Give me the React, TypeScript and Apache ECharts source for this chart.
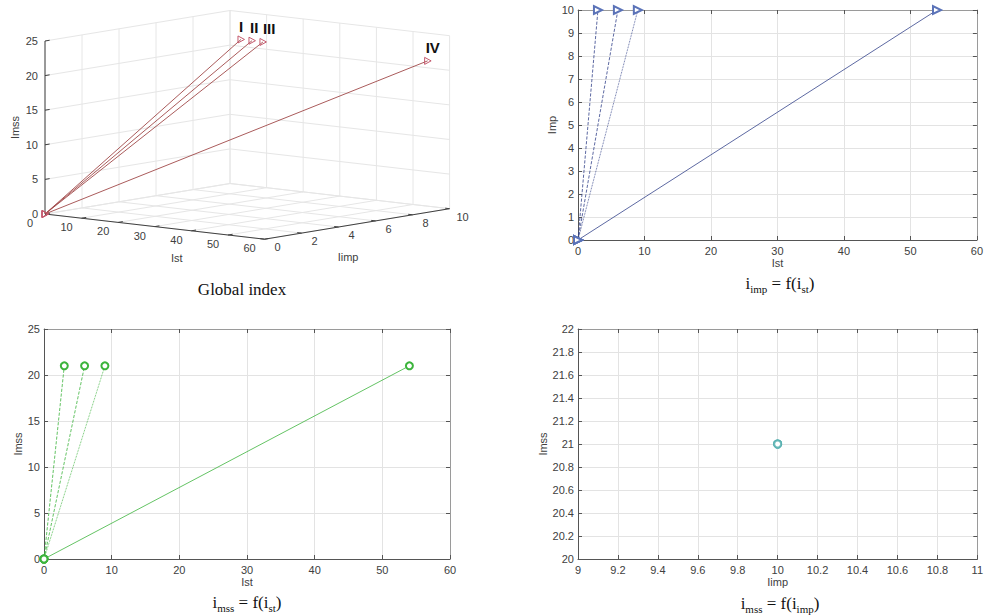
import React, { useEffect, useRef } from 'react';
import * as echarts from 'echarts';

// ---------- data ----------
const pointNames = ['I', 'II', 'III', 'IV'];
const istValues = [3, 6, 9, 54];
const impValues = [10, 10, 10, 10];
const imssValues = [21, 21, 21, 21];
const startPoint = [0, 0, 0];
const lineTypes = ['dashed', 'dashed', 'dotted', 'solid'];

const istTicks = [0, 10, 20, 30, 40, 50, 60];
const impTicks = [0, 2, 4, 6, 8, 10];
const imssTicks = [0, 5, 10, 15, 20, 25];

// ---------- 3D projection (orthographic) ----------
const O3 = [45, 214];
const AX = [3.66, 0.42];
const BX = [18.5, -3.05];
const CZ = [0, -6.92];
function proj(i: number, m: number, s: number) {
  return [
    O3[0] + i * AX[0] + m * BX[0] + s * CZ[0],
    O3[1] + i * AX[1] + m * BX[1] + s * CZ[1],
  ];
}

const FONT = 'Liberation Sans, Arial, sans-serif';
const SERIF = 'Liberation Serif, Times New Roman, serif';
const LABEL_COLOR = '#404040';
const GRID_COLOR = '#e3e3e3';

const istMax = istTicks[istTicks.length - 1];
const impMax = impTicks[impTicks.length - 1];
const imssMax = imssTicks[imssTicks.length - 1];

// segments: [i1,m1,s1,i2,m2,s2,kind]  kind 0 = grid, 1 = axis/tick
const segs3d: number[][] = [];
istTicks.forEach((t) => {
  segs3d.push([t, 0, 0, t, impMax, 0, 0]);
  segs3d.push([t, impMax, 0, t, impMax, imssMax, 0]);
});
impTicks.forEach((m) => {
  segs3d.push([0, m, 0, istMax, m, 0, 0]);
  segs3d.push([0, m, 0, 0, m, imssMax, 0]);
});
imssTicks.forEach((s) => {
  segs3d.push([0, 0, s, 0, impMax, s, 0]);
  segs3d.push([0, impMax, s, istMax, impMax, s, 0]);
});
segs3d.push([0, 0, 0, istMax, 0, 0, 1]);
segs3d.push([istMax, 0, 0, istMax, impMax, 0, 1]);
segs3d.push([0, 0, 0, 0, 0, imssMax, 1]);
istTicks.forEach((t) => segs3d.push([t, 0, 0, t, 0.25, 0, 1]));
impTicks.forEach((m) => segs3d.push([istMax, m, 0, istMax - 1.2, m, 0, 1]));
imssTicks.forEach((s) => segs3d.push([0, 0, s, 0, 0.25, s, 1]));

// tick labels: [axis, value]  axis 0 = ist, 1 = imp, 2 = imss
const labels3d: number[][] = [
  ...istTicks.map((t) => [0, t]),
  ...impTicks.map((t) => [1, t]),
  ...imssTicks.map((t) => [2, t]),
];

const points3d = istValues.map((v, k) => [v, impValues[k], imssValues[k], k]);

function axesFor(g: number, xr: number[], yr: number[], xName: string, yName: string, yGap: number, dec: boolean) {
  const fmt = (v: number) => (dec ? String(+v.toFixed(1)) : String(v));
  const common = {
    gridIndex: g,
    type: 'value' as const,
    axisTick: { show: true, inside: true, length: 4, lineStyle: { color: '#555' } },
  };
  const xs = [
    {
      ...common,
      position: 'bottom',
      min: xr[0], max: xr[1], interval: xr[2],
      axisLine: { show: true, onZero: false, lineStyle: { color: '#555' } },
      axisLabel: { color: LABEL_COLOR, fontSize: 11, fontFamily: FONT, margin: 5, formatter: fmt },
      splitLine: { show: true, lineStyle: { color: GRID_COLOR } },
      name: xName, nameLocation: 'middle', nameGap: 17,
      nameTextStyle: { color: LABEL_COLOR, fontSize: 11, fontFamily: FONT },
    },
    {
      ...common,
      position: 'top',
      min: xr[0], max: xr[1], interval: xr[2],
      axisLine: { show: true, onZero: false, lineStyle: { color: '#9a9a9a' } },
      axisLabel: { show: false },
      splitLine: { show: false },
    },
  ];
  const ys = [
    {
      ...common,
      position: 'left',
      min: yr[0], max: yr[1], interval: yr[2],
      axisLine: { show: true, onZero: false, lineStyle: { color: '#555' } },
      axisLabel: { color: LABEL_COLOR, fontSize: 11, fontFamily: FONT, margin: 4, formatter: fmt },
      splitLine: { show: true, lineStyle: { color: GRID_COLOR } },
      name: yName, nameLocation: 'middle', nameGap: yGap,
      nameTextStyle: { color: LABEL_COLOR, fontSize: 11, fontFamily: FONT },
    },
    {
      ...common,
      position: 'right',
      min: yr[0], max: yr[1], interval: yr[2],
      axisLine: { show: true, onZero: false, lineStyle: { color: '#9a9a9a' } },
      axisLabel: { show: false },
      splitLine: { show: false },
    },
  ];
  return { xs, ys };
}

function caption(x: number, y: number, main: string, sub: string) {
  return {
    type: 'text',
    x, y,
    style: {
      text: `{a|i}{s|${main}}{a| = f(i}{s|${sub}}{a|)}`,
      align: 'center',
      verticalAlign: 'middle',
      rich: {
        a: { fontFamily: SERIF, fontSize: 17, lineHeight: 22, fill: '#111' },
        s: { fontFamily: SERIF, fontSize: 11, lineHeight: 14, verticalAlign: 'bottom', fill: '#111' },
      },
    },
  };
}

export default function App() {
  const ref = useRef<HTMLDivElement>(null);
  useEffect(() => {
    if (!ref.current) return;
    const chart = echarts.init(ref.current, null, { renderer: 'svg' });

    const a0 = axesFor(0, [0, 60, 10], [0, 10, 1], 'Ist', 'Imp', 17, false);
    const a1 = axesFor(1, [0, 60, 10], [0, 25, 5], 'Ist', 'Imss', 17, false);
    const a2 = axesFor(2, [9, 11, 0.2], [20, 22, 0.2], 'Iimp', 'Imss', 25, true);

    const navy = '#33428a';
    const green = '#3cb43c';
    const teal = '#58b0b0';

    const trSeries = istValues.map((v, k) => ({
      type: 'line',
      xAxisIndex: 0, yAxisIndex: 0,
      data: [[startPoint[0], startPoint[1]], [v, impValues[k]]],
      symbol: 'emptyTriangle', symbolRotate: -90, symbolSize: 8,
      itemStyle: { color: '#5b73b8', borderWidth: 1 },
      lineStyle: { color: navy, width: 0.8, type: lineTypes[k] },
      silent: true,
    }));
    const blSeries = istValues.map((v, k) => ({
      type: 'line',
      xAxisIndex: 2, yAxisIndex: 2,
      data: [[startPoint[0], startPoint[2]], [v, imssValues[k]]],
      symbol: 'emptyCircle', symbolSize: 7,
      itemStyle: { color: green, borderWidth: 1 },
      lineStyle: { color: green, width: 0.8, type: lineTypes[k] },
      silent: true,
    }));
    const brSeries = {
      type: 'scatter',
      xAxisIndex: 4, yAxisIndex: 4,
      data: impValues.map((m, k) => [m, imssValues[k]]),
      symbol: 'emptyCircle', symbolSize: 7,
      itemStyle: { color: teal, borderWidth: 1 },
      silent: true,
    };

    const grid3d = {
      type: 'custom',
      coordinateSystem: 'none',
      silent: true,
      z: 1,
      data: segs3d,
      renderItem: (_p: any, api: any) => {
        const a = proj(api.value(0), api.value(1), api.value(2));
        const b = proj(api.value(3), api.value(4), api.value(5));
        const kind = api.value(6);
        return {
          type: 'line',
          shape: { x1: a[0], y1: a[1], x2: b[0], y2: b[1] },
          style: { stroke: kind ? '#404040' : '#e6e6e6', lineWidth: 1 },
        };
      },
    };
    const labelsSeries = {
      type: 'custom',
      coordinateSystem: 'none',
      silent: true,
      z: 2,
      data: labels3d,
      renderItem: (_p: any, api: any) => {
        const ax = api.value(0);
        const v = api.value(1);
        let p: number[];
        let align = 'center';
        if (ax === 0) { p = proj(v, 0, 0); p = [p[0] - 15, p[1] + 9]; }
        else if (ax === 1) { p = proj(istMax, v, 0); p = [p[0] + 13, p[1] + 8]; }
        else { p = proj(0, 0, v); p = [p[0] - 7, p[1]]; align = 'right'; }
        return {
          type: 'text',
          x: p[0], y: p[1],
          style: { text: String(v), align, verticalAlign: 'middle', fontSize: 11, fontFamily: FONT, fill: LABEL_COLOR },
        };
      },
    };
    const data3d = {
      type: 'custom',
      coordinateSystem: 'none',
      silent: true,
      z: 3,
      data: points3d,
      renderItem: (_p: any, api: any) => {
        const s = proj(startPoint[0], startPoint[1], startPoint[2]);
        const e = proj(api.value(0), api.value(1), api.value(2));
        const k = api.value(3);
        const tri = (c: number[]) => [[c[0] - 3, c[1] - 3.5], [c[0] + 3.5, c[1]], [c[0] - 3, c[1] + 3.5]];
        return {
          type: 'group',
          children: [
            { type: 'line', shape: { x1: s[0], y1: s[1], x2: e[0], y2: e[1] }, style: { stroke: '#a04848', lineWidth: 0.9 } },
            { type: 'polygon', shape: { points: tri(e) }, style: { stroke: '#c45a6e', fill: 'none', lineWidth: 1 } },
            { type: 'polygon', shape: { points: tri(s) }, style: { stroke: '#c45a6e', fill: 'none', lineWidth: 1 } },
            {
              type: 'text', x: e[0] - 2 + (k === 2 ? 2 : 0), y: e[1] - 13,
              style: { text: pointNames[k], align: 'left', verticalAlign: 'middle', fontSize: 15, fontWeight: 'bold', fontFamily: FONT, fill: '#111' },
            },
          ],
        };
      },
    };

    const mid1 = proj(istMax / 2, 0, 0);
    const mid2 = proj(istMax, impMax / 2, 0);
    const mid3 = proj(0, 0, imssMax / 2);

    chart.setOption({
      animation: false,
      backgroundColor: '#ffffff',
      grid: [
        { left: 578, top: 10, width: 404, height: 230 },
        { left: 44, top: 329, width: 406, height: 230 },
        { left: 578, top: 329, width: 404, height: 230 },
      ],
      xAxis: [...a0.xs, ...a1.xs, ...a2.xs],
      yAxis: [...a0.ys, ...a1.ys, ...a2.ys],
      series: [...trSeries, ...blSeries, brSeries, grid3d, labelsSeries, data3d],
      graphic: [
        { type: 'text', x: mid1[0] + 22, y: mid1[1] + 31, style: { text: 'Ist', align: 'center', verticalAlign: 'middle', fontSize: 11, fontFamily: FONT, fill: LABEL_COLOR } },
        { type: 'text', x: mid2[0] - 9, y: mid2[1] + 33, style: { text: 'Iimp', align: 'center', verticalAlign: 'middle', fontSize: 11, fontFamily: FONT, fill: LABEL_COLOR } },
        { type: 'text', x: mid3[0] - 30, y: mid3[1], rotation: Math.PI / 2, style: { text: 'Imss', align: 'center', verticalAlign: 'middle', fontSize: 11, fontFamily: FONT, fill: LABEL_COLOR } },
        { type: 'text', x: 242, y: 289, style: { text: 'Global index', align: 'center', verticalAlign: 'middle', fontSize: 17, fontFamily: SERIF, fill: '#111' } },
        caption(780, 283, 'imp', 'st'),
        caption(247, 602, 'mss', 'st'),
        caption(780, 603, 'mss', 'imp'),
      ],
    });
    return () => chart.dispose();
  }, []);
  return <div ref={ref} style={{ position: 'fixed', left: 0, top: 0, width: 986, height: 615 }} />;
}
